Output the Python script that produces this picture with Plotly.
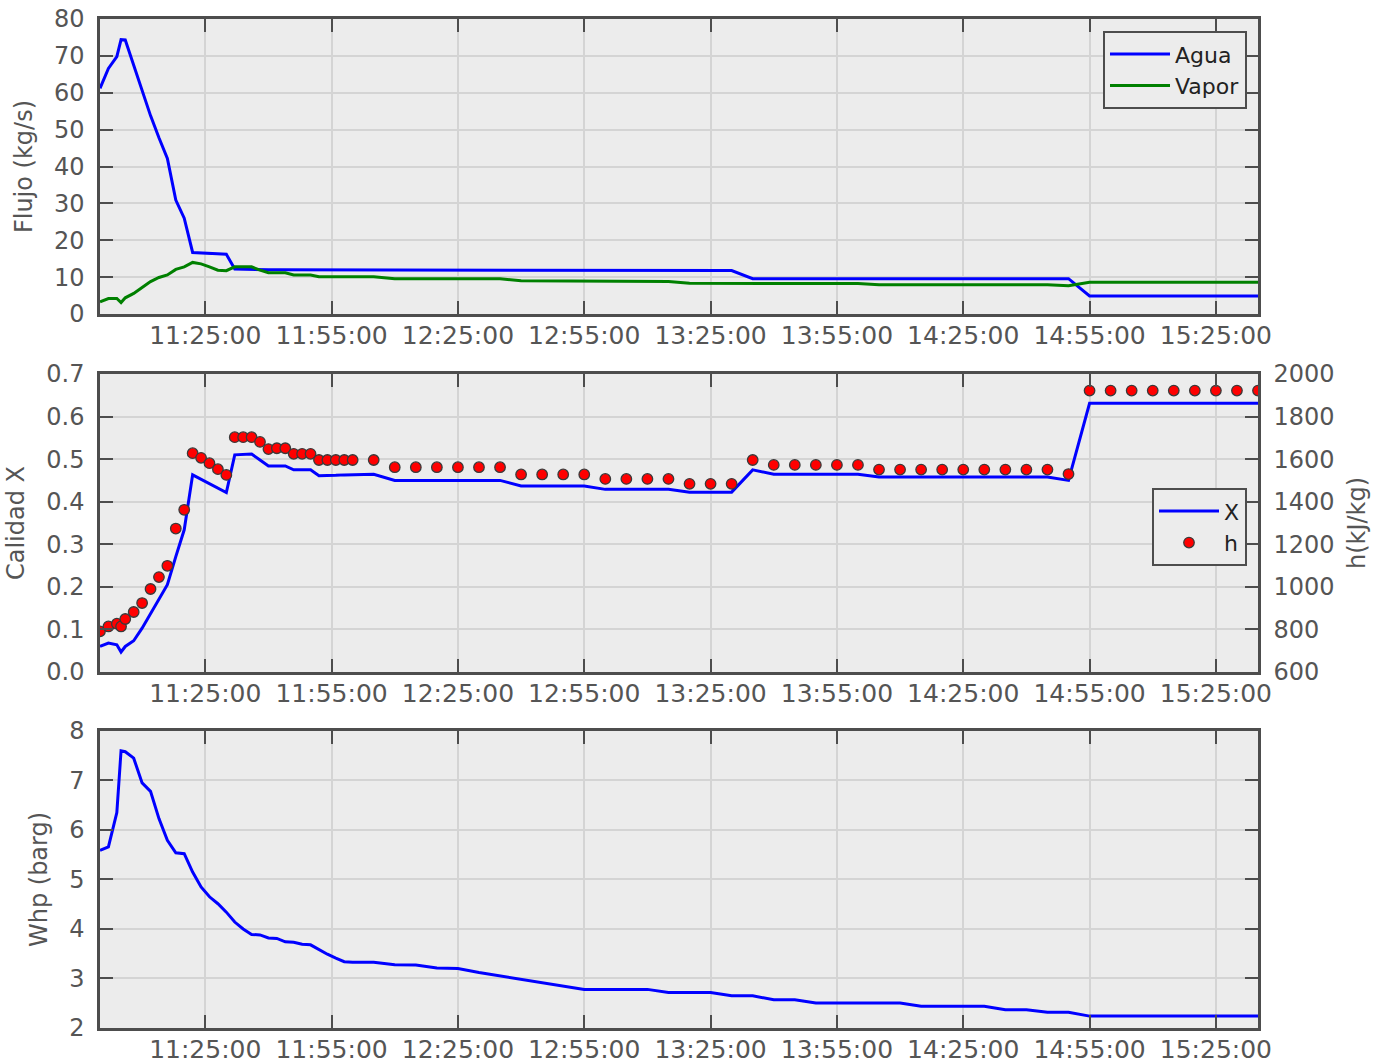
import plotly.graph_objects as go

DATE = "2016-01-01"

TIMES = ["11:00", "11:02", "11:04", "11:05", "11:06", "11:08", "11:10", "11:12",
         "11:14", "11:16", "11:18", "11:20", "11:22", "11:24", "11:26", "11:28",
         "11:30", "11:32", "11:34", "11:36", "11:38", "11:40", "11:42", "11:44",
         "11:46", "11:48", "11:50", "11:52", "11:54", "11:56", "11:58", "12:00",
         "12:05", "12:10", "12:15", "12:20", "12:25", "12:30", "12:35", "12:40",
         "12:45", "12:50", "12:55", "13:00", "13:05", "13:10", "13:15", "13:20",
         "13:25", "13:30", "13:35", "13:40", "13:45", "13:50", "13:55", "14:00",
         "14:05", "14:10", "14:15", "14:20", "14:25", "14:30", "14:35", "14:40",
         "14:45", "14:50", "14:55", "15:00", "15:05", "15:10", "15:15", "15:20",
         "15:25", "15:30", "15:35"]

AGUA = [61.2, 66.6, 69.8, 74.4, 74.3, 67.6, 60.7, 53.8, 47.8, 42.2, 30.9, 26.0,
        16.7, 16.6, 16.5, 16.4, 16.2, 12.2, 12.1, 12.1, 12.0, 12.0, 12.0, 12.0,
        11.9, 11.9, 11.9, 11.9, 11.9, 11.9, 11.85, 11.85,
        11.8, 11.8, 11.8, 11.8, 11.8, 11.8, 11.8, 11.8, 11.8, 11.8, 11.8, 11.8,
        11.8, 11.8, 11.8, 11.8, 11.8, 11.8,
        9.6, 9.6, 9.6, 9.6, 9.6, 9.6, 9.6, 9.6, 9.6, 9.6, 9.6, 9.6, 9.6, 9.6,
        9.6, 9.6,
        4.9, 4.9, 4.9, 4.9, 4.9, 4.9, 4.9, 4.9, 4.9]

VAPOR = [3.3, 4.2, 4.2, 3.1, 4.4, 5.6, 7.2, 8.8, 9.9, 10.6, 12.1, 12.8,
         14.0, 13.6, 12.8, 11.9, 11.75, 12.8, 12.8, 12.8, 11.9, 11.2, 11.2, 11.2,
         10.6, 10.6, 10.6, 10.1, 10.1, 10.1, 10.1, 10.1,
         10.1, 9.55, 9.55, 9.55, 9.55, 9.55, 9.55, 9.0, 9.0, 9.0, 8.9, 8.8,
         8.8, 8.8, 8.8, 8.35, 8.35, 8.35, 8.3, 8.25, 8.25, 8.25, 8.25, 8.25,
         7.95, 7.95, 7.95, 7.95, 7.95, 7.95, 7.95, 7.95, 7.95, 7.7,
         8.6, 8.6, 8.6, 8.6, 8.6, 8.6, 8.6, 8.6, 8.6]

CALIDAD_X = [0.060, 0.068, 0.064, 0.047, 0.060, 0.0735, 0.103, 0.138, 0.170, 0.205,
             0.271, 0.334, 0.463, 0.453, 0.442, 0.432, 0.4215, 0.510, 0.5115, 0.512,
             0.498, 0.484, 0.484, 0.484, 0.475, 0.475, 0.475, 0.461, 0.461, 0.462,
             0.463, 0.463,
             0.4645, 0.450, 0.450, 0.450, 0.450, 0.450, 0.450, 0.437, 0.437, 0.437,
             0.437, 0.429, 0.429, 0.429, 0.429, 0.4225, 0.4225, 0.4225, 0.4747,
             0.4646, 0.4646, 0.4646, 0.4646, 0.4646,
             0.458, 0.458, 0.458, 0.458, 0.458, 0.458, 0.458, 0.458, 0.458, 0.450,
             0.631, 0.631, 0.631, 0.631, 0.631, 0.631, 0.631, 0.631, 0.631]

ENTALPIA_H = [791, 814, 827, 814, 849, 882, 924, 990, 1046, 1099, 1274, 1362,
              1628, 1606, 1581, 1553, 1526, 1703, 1703, 1703, 1681, 1647, 1651, 1651,
              1625, 1625, 1625, 1596, 1596, 1596, 1596, 1596,
              1596, 1562, 1562, 1562, 1562, 1562, 1562, 1528, 1528, 1528, 1528,
              1507, 1507, 1507, 1507, 1484, 1484, 1484, 1596,
              1573, 1573, 1573, 1573, 1573,
              1551, 1551, 1551, 1551, 1551, 1551, 1551, 1551, 1551, 1530,
              1922, 1922, 1922, 1922, 1922, 1922, 1922, 1922, 1922]

WHP = [5.59, 5.66, 6.35, 7.6, 7.58, 7.45, 6.95, 6.78, 6.23, 5.79, 5.54, 5.52,
       5.15, 4.85, 4.65, 4.51, 4.34, 4.14, 4.0, 3.89, 3.88, 3.82, 3.81, 3.74,
       3.73, 3.69, 3.68, 3.58, 3.49, 3.41, 3.34, 3.33,
       3.33, 3.28, 3.27, 3.21, 3.20, 3.12, 3.05, 2.98, 2.91, 2.84,
       2.78, 2.78, 2.78, 2.78, 2.715, 2.715, 2.715, 2.65, 2.65, 2.57, 2.57,
       2.505, 2.505, 2.505, 2.505, 2.505, 2.44, 2.44, 2.44, 2.44, 2.37, 2.37,
       2.32, 2.32,
       2.24, 2.24, 2.24, 2.24, 2.24, 2.24, 2.24, 2.24, 2.24]

for s in (AGUA, VAPOR, CALIDAD_X, ENTALPIA_H, WHP):
    assert len(s) == len(TIMES), len(s)

x = [f"{DATE} {t}:00" for t in TIMES]
X_RANGE = [f"{DATE} 11:00:00", f"{DATE} 15:35:00"]

AX = "#4d4d4d"
GRID = "#d4d4d4"
TXT = "#555555"
BG = "#ececec"
FONT = "DejaVu Sans"

fig = go.Figure()
fig.add_trace(go.Scatter(x=x, y=AGUA, name="Agua", mode="lines",
                         line=dict(color="#0000ff", width=3),
                         xaxis="x", yaxis="y", legend="legend"))
fig.add_trace(go.Scatter(x=x, y=VAPOR, name="Vapor", mode="lines",
                         line=dict(color="#008000", width=3),
                         xaxis="x", yaxis="y", legend="legend"))
fig.add_trace(go.Scatter(x=x, y=CALIDAD_X, name="X", mode="lines",
                         line=dict(color="#0000ff", width=3),
                         xaxis="x2", yaxis="y2", legend="legend2"))
fig.add_trace(go.Scatter(x=x, y=ENTALPIA_H, name="h", mode="markers",
                         marker=dict(color="#ff0000", size=10.5,
                                     line=dict(color="#3a3a3a", width=1.3)),
                         xaxis="x2", yaxis="y3", legend="legend2"))
fig.add_trace(go.Scatter(x=x, y=WHP, name="Whp", mode="lines",
                         line=dict(color="#0000ff", width=3),
                         xaxis="x3", yaxis="y4", showlegend=False))

tickfont = dict(family=FONT, size=24, color=TXT)
xtickfont = dict(family=FONT, size=25, color=TXT)
titlefont = dict(family=FONT, size=24, color=TXT)


def xax(anchor):
    return dict(type="date", range=X_RANGE, anchor=anchor, domain=[0, 1],
                tickformat="%H:%M:%S", tick0=f"{DATE} 11:25:00", dtick=1800000,
                showgrid=True, gridcolor=GRID, gridwidth=2, zeroline=False,
                ticks="inside", ticklen=13, tickwidth=2, tickcolor=AX,
                showline=True, linecolor=AX, linewidth=2.5, mirror="ticks",
                tickfont=xtickfont, ticklabelstandoff=-3, automargin=False)


def yax(domain, rng, dtick, title, anchor, mirror="ticks", fmt=None):
    d = dict(domain=domain, range=rng, dtick=dtick, anchor=anchor,
             showgrid=True, gridcolor=GRID, gridwidth=2, zeroline=False,
             ticks="inside", ticklen=13, tickwidth=2, tickcolor=AX,
             showline=True, linecolor=AX, linewidth=2.5, mirror=mirror,
             tickfont=tickfont, ticklabelstandoff=8, automargin=False,
             title=dict(text=title, font=titlefont))
    if fmt:
        d["tickformat"] = fmt
    return d


legend_common = dict(xanchor="right", yanchor="top", bgcolor=BG,
                     bordercolor=AX, borderwidth=2, itemwidth=60,
                     font=dict(family=FONT, size=22, color="#222222"))

fig.update_layout(
    width=1382, height=1061,
    margin=dict(l=100, r=124, t=19, b=33, autoexpand=False),
    paper_bgcolor="white", plot_bgcolor=BG,
    font=dict(family=FONT, color=TXT),
    xaxis=xax("y"),
    xaxis2=xax("y2"),
    xaxis3=xax("y4"),
    yaxis=yax([0.7076, 1.0], [0, 80], 10, "Flujo (kg/s)", "x"),
    yaxis2=yax([0.3528, 0.6482], [0, 0.7], 0.1, "Calidad X", "x2",
               mirror=True, fmt=".1f"),
    yaxis3=dict(overlaying="y2", side="right", anchor="x2", range=[600, 2000],
                dtick=200, showgrid=False, zeroline=False,
                ticks="inside", ticklen=13, tickwidth=2, tickcolor=AX,
                showline=True, linecolor=AX, linewidth=2.5,
                tickfont=tickfont, ticklabelstandoff=8, automargin=False,
                title=dict(text="h(kJ/kg)", font=titlefont)),
    yaxis4=yax([0.0, 0.2944], [2, 8], 1, "Whp (barg)", "x3"),
    legend=dict(x=0.9905, y=0.988, **legend_common),
    legend2=dict(x=0.9905, y=0.535, **legend_common),
    showlegend=True,
)

fig.write_html("out.html", config={"displayModeBar": False},
               post_script="document.body.style.margin='0';")
